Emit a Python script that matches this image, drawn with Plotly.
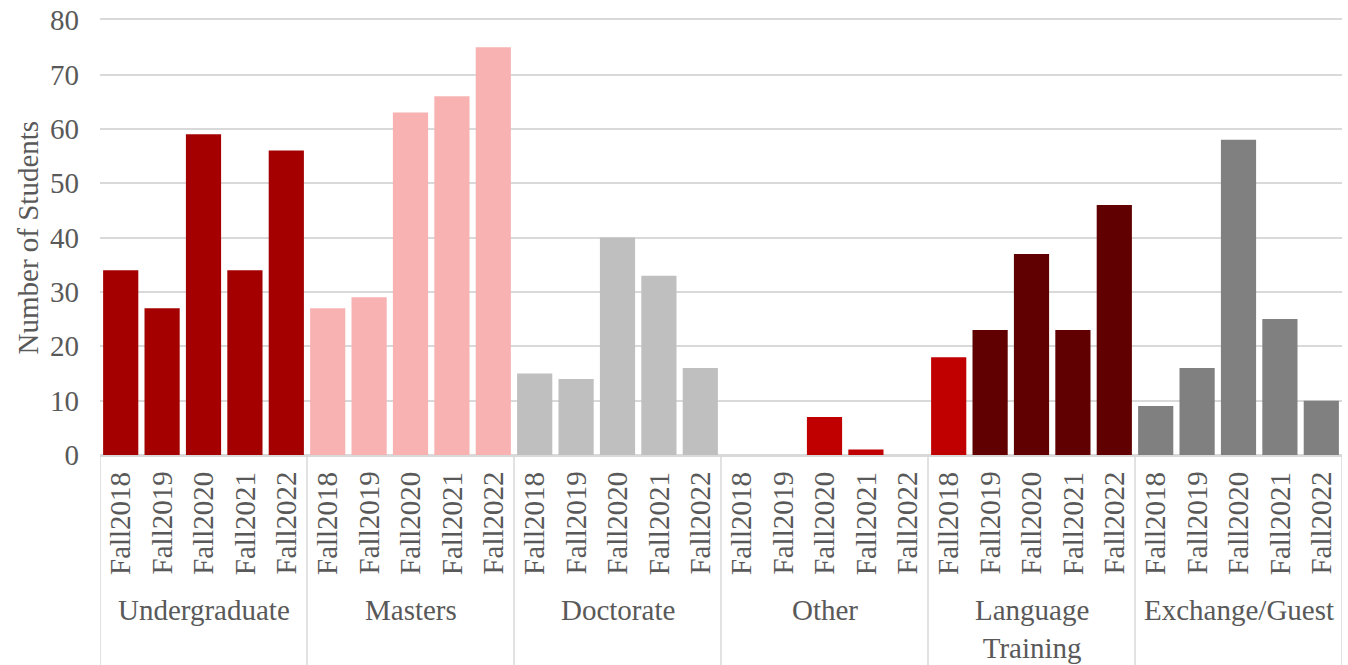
import plotly.graph_objects as go

groups = ["Undergraduate", "Masters", "Doctorate", "Other", "Language<br>Training", "Exchange/Guest"]
years = ["Fall2018", "Fall2019", "Fall2020", "Fall2021", "Fall2022"]
undergraduate = [34, 27, 59, 34, 56]
masters = [27, 29, 63, 66, 75]
doctorate = [15, 14, 40, 33, 16]
other = [0, 0, 7, 1, 0]
language = [18, 23, 37, 23, 46]
exchange = [9, 16, 58, 25, 10]
series = [undergraduate, masters, doctorate, other, language, exchange]
y_ticks = [0, 10, 20, 30, 40, 50, 60, 70, 80]
colors = [
    ["#A50000"] * 5,
    ["#F8B2B2"] * 5,
    ["#BFBFBF"] * 5,
    ["#C00000"] * 5,
    ["#C00000", "#600000", "#600000", "#600000", "#600000"],
    ["#808080"] * 5,
]

FONT = "'Liberation Serif', 'Times New Roman', serif"
TXT = "#595959"
GRID = "#D9D9D9"
FS = 29

fig = go.Figure()
n = len(years)
for gi, (g, vals) in enumerate(zip(groups, series)):
    xs = [gi * n + i for i in range(n)]
    fig.add_trace(go.Bar(x=xs, y=vals, marker=dict(color=colors[gi], line=dict(width=0)),
                         name=g, showlegend=False))

annotations = []
shapes = []
for gi, g in enumerate(groups):
    for i, yr in enumerate(years):
        annotations.append(dict(x=gi * n + i, y=-0.034, xref="x", yref="paper",
                                text=yr, textangle=-90, showarrow=False,
                                xanchor="center", yanchor="top",
                                font=dict(family=FONT, size=FS, color=TXT)))
    annotations.append(dict(x=gi * n + (n - 1) / 2, y=-0.316, xref="x", yref="paper",
                            text=g, showarrow=False, xanchor="center", yanchor="top",
                            font=dict(family=FONT, size=FS, color=TXT)))
annotations.append(dict(x=-0.058, y=0.5, xref="paper", yref="paper", text="Number of Students",
                        textangle=-90, showarrow=False, xanchor="center", yanchor="middle",
                        font=dict(family=FONT, size=FS, color=TXT)))
for k in range(len(groups) + 1):
    shapes.append(dict(type="line", xref="x", yref="paper", x0=k * n - 0.5, x1=k * n - 0.5,
                       y0=0, y1=-0.49, line=dict(color=GRID, width=1.5)))

fig.update_layout(
    width=1348, height=665,
    margin=dict(l=100, r=6, t=20, b=210),
    plot_bgcolor="white", paper_bgcolor="white",
    bargap=0.15,
    annotations=annotations, shapes=shapes,
    xaxis=dict(range=[-0.5, len(groups) * n - 0.5], showticklabels=False, showgrid=False,
               zeroline=False, showline=True, linecolor=GRID, linewidth=1.5, mirror=True,
               ticks="", automargin=False),
    yaxis=dict(range=[0, 80.03], tickmode="array", tickvals=y_ticks,
               showgrid=True, gridcolor=GRID, gridwidth=1.5,
               zeroline=True, zerolinecolor=GRID, zerolinewidth=1.5,
               tickfont=dict(family=FONT, size=FS, color=TXT), ticks="",
               ticklabelstandoff=20, automargin=False),
)

fig.write_html("out.html", config={"displayModeBar": False},
               post_script="document.body.style.margin='0px';document.body.style.overflow='hidden';")
